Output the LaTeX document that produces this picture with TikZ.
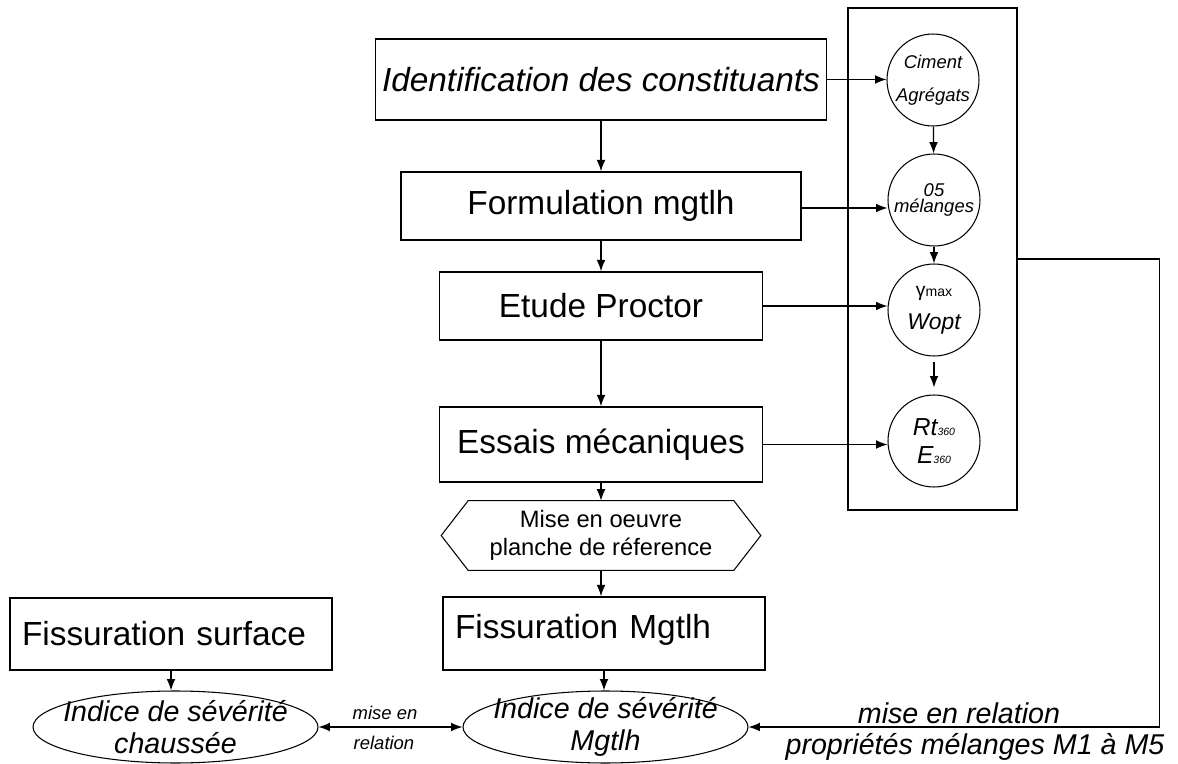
\documentclass[tikz,border=0pt]{standalone}
\usepackage{fontspec}
\setmainfont{Liberation Sans}
\usetikzlibrary{arrows.meta,shapes.geometric}

\tikzset{
  box/.style={draw, line width=0.8pt, inner sep=0pt, font=\fontsize{19}{23}\selectfont},
  boxit/.style={box, font=\fontsize{19}{23}\selectfont\itshape},
  bubble/.style={draw, circle, line width=0.6pt, minimum size=1.84cm, inner sep=0pt, align=center},
  sev/.style={draw, ellipse, line width=0.6pt, minimum width=5.7cm, minimum height=1.44cm, inner sep=0pt},
  note/.style={font=\fontsize{16.3}{18}\selectfont\itshape},
  small/.style={font=\fontsize{10.5}{12}\selectfont\itshape},
  arr/.style={line width=0.7pt, -{Latex[length=6.5pt,width=5pt]}},
  arrs/.style={line width=0.7pt, {Latex[length=6.5pt,width=5pt]}-{Latex[length=6.5pt,width=5pt]}},
}

\begin{document}
\begin{tikzpicture}[x=0.02cm, y=-0.02cm]
  \useasboundingbox (0,0) rectangle (1178,764);

  % main column
  \node[boxit, minimum width=9.02cm, minimum height=1.62cm] (ident) at (601,79.5) {Identification des constituants};
  \node[box, minimum width=8cm, minimum height=1.36cm] (formul) at (601,206) {Formulation mgtlh};
  \node[box, minimum width=6.46cm, minimum height=1.36cm] (proctor) at (601,306) {Etude Proctor};
  \node[box, minimum width=6.46cm, minimum height=1.5cm] (essais) at (601,444.5) {Essais mécaniques};
  \node[font=\fontsize{13.5}{16}\selectfont, minimum width=5.3cm, minimum height=1.38cm, inner sep=0pt, align=center] (mise) at (601,535.5) {Mise en oeuvre\\planche de réference};
  \draw[line width=0.6pt] (mise.north west) -- (mise.north east) -- ([xshift=0.54cm]mise.east)
    -- (mise.south east) -- (mise.south west) -- ([xshift=-0.54cm]mise.west) -- cycle;
  \node[box, minimum height=1.46cm, text width=5.96cm, inner xsep=0.24cm, align=left, text depth=0.3cm] (fissM) at (604,633.5) {Fissuration Mgtlh};
  \node[box, minimum height=1.44cm, text width=5.96cm, inner xsep=0.24cm, align=left] (fissS) at (171,634) {Fissuration surface};

  % severity indexes
  \node[sev, label={[note, align=center]center:{\itshape Indice de sévérité\\\itshape chaussée}}] (ellS) at (175.5,727) {};
  \node[sev, label={[note, align=center]center:{\itshape Indice de sévérité\\\itshape Mgtlh}}] (ellM) at (605.5,727) {};

  % mixture properties
  \node[draw, line width=0.8pt, minimum width=3.38cm, minimum height=10.04cm] (props) at (932.5,259) {};
  \node[bubble, font=\fontsize{10.5}{12}\selectfont\itshape] (c1) at (933,80) {Ciment\\[7pt]Agrégats};
  \node[bubble, font=\fontsize{10.5}{12}\selectfont\itshape] (c2) at (934,200) {05\\[-3pt]mélanges};
  \node[bubble] (c3) at (934,310) {{\fontsize{11}{12}\selectfont γ\fontsize{8}{9}\selectfont max}\\[7pt]{\fontsize{13}{14}\selectfont\itshape Wopt}};
  \node[bubble, font=\fontsize{14}{16}\selectfont\itshape] (c4) at (934,441) {Rt{\fontsize{6}{6}\selectfont 360}\\E{\fontsize{6}{6}\selectfont 360}};

  \draw[arr] (ident) -- (formul);
  \draw[arr] (formul) -- (proctor);
  \draw[arr] (proctor) -- (essais);
  \draw[arr] (essais) -- (mise);
  \draw[arr] (mise.south) -- (mise.south |- fissM.north);
  \draw[arr] (fissM.south) -- (fissM.south |- ellM.north);
  \draw[arr] (fissS.south) -- (fissS.south |- ellS.north);

  \draw[arr] (ident.east) -- (ident.east -| c1.west);
  \draw[arr] ([yshift=-0.04cm]formul.east) -- ([yshift=-0.04cm]formul.east -| c2.west);
  \draw[arr] (proctor.east) -- (proctor.east -| c3.west);
  \draw[arr] (essais.east) -- (essais.east -| c4.west);
  \draw[arr] (c1) -- (c2);
  \draw[arr] (c2) -- (c3);
  \draw[arr, shorten <=3pt, shorten >=4pt] (c3) -- (c4);

  % relations
  \draw[arrs] (ellS.east) -- (ellM.west);
  \node[small] (rel1) at (385,713) {mise en};
  \node[small] (rel2) at (384,743) {relation};
  \draw[arr] (props.east) -- ++(142,0) |- (ellM.east);
  \node[note] (rel3) at (959,713) {mise en relation};
  \node[note] (rel4) at (975,747) {propriétés mélanges M1 à M5};
\end{tikzpicture}
\end{document}
